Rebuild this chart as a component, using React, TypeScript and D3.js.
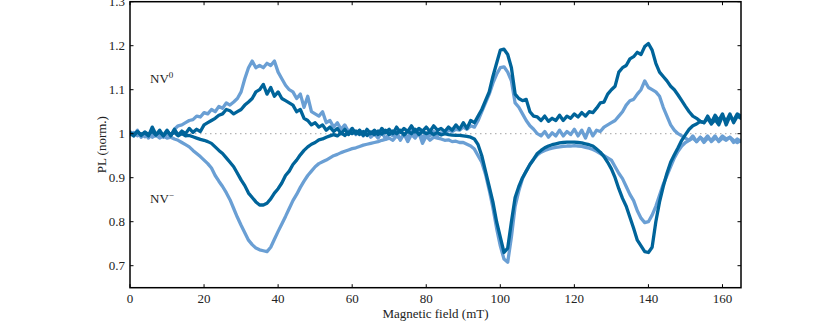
import React from 'react';
import * as d3 from 'd3';

// Magnetic field grid (mT)
const fieldMT: number[] = d3.range(0, 166);

// NV0 PL, dark series
const nv0Dark = [
  1.000, 0.995, 1.005, 0.998, 1.002, 0.995, 1.015, 0.998, 1.004, 0.996,
  1.008, 0.995, 1.010, 0.997, 1.006, 1.000, 1.012, 1.003, 1.010, 1.005,
  1.020, 1.025, 1.030, 1.035, 1.042, 1.045, 1.055, 1.052, 1.045, 1.050,
  1.055, 1.065, 1.072, 1.080, 1.095, 1.100, 1.112, 1.090, 1.105, 1.085,
  1.095, 1.080, 1.075, 1.070, 1.065, 1.050, 1.055, 1.035, 1.030, 1.020,
  1.025, 1.015, 1.020, 1.008, 1.015, 1.005, 1.012, 1.000, 1.010, 0.998,
  1.012, 1.000, 1.008, 0.996, 1.010, 1.000, 1.008, 0.998, 1.012, 1.002,
  1.010, 1.000, 1.015, 1.003, 1.012, 1.005, 1.018, 1.004, 1.012, 1.006,
  1.015, 1.005, 1.018, 1.008, 1.012, 1.005, 1.015, 1.008, 1.020, 1.010,
  1.025, 1.012, 1.030, 1.025, 1.040, 1.055, 1.075, 1.095, 1.130, 1.160,
  1.190, 1.192, 1.180, 1.150, 1.090, 1.080, 1.075, 1.078, 1.050, 1.040,
  1.038, 1.030, 1.040, 1.028, 1.035, 1.030, 1.042, 1.030, 1.040, 1.035,
  1.045, 1.038, 1.048, 1.040, 1.050, 1.048, 1.058, 1.070, 1.072, 1.090,
  1.100, 1.108, 1.140, 1.150, 1.155, 1.170, 1.175, 1.185, 1.180, 1.198,
  1.205, 1.190, 1.160, 1.140, 1.130, 1.120, 1.108, 1.100, 1.088, 1.075,
  1.062, 1.050, 1.040, 1.035, 1.028, 1.025, 1.040, 1.025, 1.042, 1.030,
  1.045, 1.020, 1.040, 1.030, 1.045, 1.040,
];

// NV0 PL, light series
const nv0Light = [
  1.005, 0.995, 1.008, 0.992, 1.000, 0.990, 1.002, 0.995, 0.998, 0.992,
  1.000, 0.995, 1.010, 1.018, 1.020, 1.025, 1.030, 1.032, 1.040, 1.038,
  1.048, 1.045, 1.055, 1.050, 1.062, 1.058, 1.070, 1.065, 1.072, 1.080,
  1.095, 1.125, 1.150, 1.165, 1.150, 1.155, 1.150, 1.160, 1.155, 1.165,
  1.140, 1.125, 1.110, 1.100, 1.095, 1.080, 1.090, 1.060, 1.085, 1.050,
  1.045, 1.040, 1.050, 1.025, 1.030, 1.015, 1.025, 1.010, 1.020, 1.005,
  1.012, 0.998, 1.008, 0.995, 1.005, 0.992, 1.000, 0.990, 1.004, 0.988,
  1.000, 0.995, 1.005, 0.985, 1.000, 0.990, 1.010, 0.992, 1.005, 0.990,
  1.002, 0.995, 1.005, 0.995, 1.002, 1.000, 1.008, 1.005, 1.010, 1.008,
  1.015, 1.010, 1.018, 1.015, 1.030, 1.050, 1.070, 1.090, 1.115, 1.135,
  1.150, 1.152, 1.140, 1.120, 1.070, 1.060, 1.045, 1.030, 1.018, 1.010,
  1.000, 0.995, 1.005, 0.992, 1.002, 0.995, 1.008, 0.995, 1.005, 0.998,
  1.010, 0.995, 1.008, 0.990, 1.012, 0.995, 1.008, 1.005, 1.015, 1.020,
  1.025, 1.030, 1.040, 1.050, 1.065, 1.075, 1.078, 1.090, 1.100, 1.120,
  1.105, 1.100, 1.095, 1.085, 1.060, 1.040, 1.020, 1.008, 1.000, 0.995,
  0.990, 0.985, 0.995, 0.982, 0.992, 0.985, 0.995, 0.982, 0.990, 0.985,
  0.995, 0.988, 0.992, 0.985, 0.980, 0.985,
];

// NV- PL, dark series
const nvmDark = [
  1.002, 0.998, 1.005, 0.996, 1.004, 0.998, 1.006, 0.997, 1.008, 0.995,
  1.005, 0.998, 1.003, 0.995, 1.000, 0.995, 0.996, 0.993, 0.990, 0.987,
  0.985, 0.982, 0.978, 0.970, 0.962, 0.955, 0.945, 0.935, 0.925, 0.910,
  0.895, 0.882, 0.865, 0.855, 0.845, 0.838, 0.838, 0.842, 0.852, 0.865,
  0.875, 0.888, 0.905, 0.915, 0.930, 0.940, 0.952, 0.962, 0.970, 0.976,
  0.980, 0.986, 0.988, 0.992, 0.995, 0.998, 0.995, 1.002, 0.996, 1.004,
  1.000, 1.006, 0.998, 1.005, 0.996, 1.004, 0.998, 1.006, 0.999, 1.008,
  0.998, 1.006, 1.000, 1.008, 0.997, 1.006, 1.000, 1.010, 0.998, 1.005,
  1.000, 1.004, 0.998, 1.003, 0.997, 1.000, 0.998, 0.997, 0.996, 0.996,
  0.995, 0.994, 0.992, 0.988, 0.975, 0.950, 0.915, 0.880, 0.845, 0.800,
  0.765, 0.730, 0.740, 0.800, 0.855, 0.880, 0.900, 0.915, 0.930, 0.942,
  0.955, 0.962, 0.968, 0.972, 0.975, 0.977, 0.979, 0.980, 0.981, 0.981,
  0.981, 0.980, 0.979, 0.977, 0.975, 0.972, 0.965, 0.958, 0.948, 0.935,
  0.920, 0.900, 0.875, 0.853, 0.835, 0.810, 0.785, 0.758, 0.745, 0.732,
  0.730, 0.742, 0.800, 0.845, 0.880, 0.910, 0.935, 0.952, 0.968, 0.985,
  0.998, 1.010, 1.018, 1.022, 1.028, 1.025, 1.035, 1.022, 1.032, 1.020,
  1.040, 1.028, 1.045, 1.025, 1.040, 1.035,
];

// NV- PL, light series
const nvmLight = [
  0.998, 1.003, 0.995, 1.000, 0.993, 0.998, 0.992, 0.997, 0.990, 0.995,
  0.990, 0.992, 0.988, 0.985, 0.980, 0.975, 0.970, 0.962, 0.955, 0.948,
  0.940, 0.932, 0.922, 0.905, 0.892, 0.880, 0.866, 0.850, 0.830, 0.810,
  0.792, 0.775, 0.758, 0.748, 0.740, 0.736, 0.734, 0.732, 0.742, 0.760,
  0.778, 0.795, 0.812, 0.830, 0.848, 0.862, 0.878, 0.892, 0.905, 0.915,
  0.925, 0.932, 0.936, 0.940, 0.945, 0.950, 0.953, 0.957, 0.960, 0.963,
  0.966, 0.968, 0.971, 0.974, 0.976, 0.978, 0.980, 0.982, 0.985, 0.987,
  0.990, 0.985, 0.995, 0.988, 1.000, 0.982, 0.998, 0.990, 1.002, 0.978,
  0.995, 0.985, 0.992, 0.990, 0.988, 0.985, 0.986, 0.982, 0.983, 0.980,
  0.980, 0.976, 0.972, 0.965, 0.950, 0.935, 0.908, 0.872, 0.832, 0.785,
  0.745, 0.715, 0.708, 0.765, 0.835, 0.870, 0.898, 0.915, 0.930, 0.942,
  0.952, 0.958, 0.962, 0.965, 0.967, 0.969, 0.970, 0.971, 0.972, 0.972,
  0.973, 0.972, 0.971, 0.969, 0.967, 0.964, 0.960, 0.955, 0.950, 0.945,
  0.940, 0.925, 0.910, 0.898, 0.880, 0.862, 0.848, 0.825, 0.808, 0.798,
  0.800, 0.815, 0.835, 0.860, 0.885, 0.905, 0.925, 0.945, 0.960, 0.972,
  0.980, 0.985, 0.990, 0.982, 0.992, 0.980, 0.990, 0.985, 0.995, 0.982,
  0.990, 0.985, 0.992, 0.980, 0.988, 0.982,
];

const xTicks = [0, 20, 40, 60, 80, 100, 120, 140, 160];
const yTicks = [0.7, 0.8, 0.9, 1.0, 1.1, 1.2, 1.3];
const yTickLabels = ['0.7', '0.8', '0.9', '1', '1.1', '1.2', '1.3'];

const DARK = '#00649a';
const LIGHT = '#6a9fd4';
const FONT = '"Liberation Serif", "Times New Roman", serif';

export default function App() {
  const left = 130, right = 741, top = 1.7, bottom = 287.7;
  const x = d3.scaleLinear().domain([0, 165]).range([left, right]);
  const y = d3.scaleLinear().domain([0.65, 1.3]).range([bottom, top]);
  const line = d3
    .line<number>()
    .x((_, i) => x(fieldMT[i]))
    .y((d) => y(d));

  const series = [
    { data: nvmLight, color: LIGHT },
    { data: nv0Light, color: LIGHT },
    { data: nvmDark, color: DARK },
    { data: nv0Dark, color: DARK },
  ];
  const tl = 3.5;

  return (
    <svg
      width={830}
      height={326}
      style={{ position: 'absolute', left: 0, top: 0, background: '#fff' }}
      fontFamily={FONT}
    >
      <defs>
        <clipPath id="plotClip">
          <rect x={left} y={top} width={right - left} height={bottom - top} />
        </clipPath>
      </defs>
      <line
        x1={left}
        x2={right}
        y1={y(1)}
        y2={y(1)}
        stroke="#b5b5b5"
        strokeWidth={1.2}
        strokeDasharray="1.5 3.5"
      />
      <g clipPath="url(#plotClip)">
        {series.map((s, i) => (
          <path
            key={i}
            d={line(s.data) || ''}
            fill="none"
            stroke={s.color}
            strokeWidth={3.3}
            strokeLinejoin="round"
            strokeLinecap="round"
          />
        ))}
      </g>
      <rect
        x={left}
        y={top}
        width={right - left}
        height={bottom - top}
        fill="none"
        stroke="#000"
        strokeWidth={1.5}
      />
      {xTicks.map((t) => (
        <g key={'x' + t}>
          <line x1={x(t)} x2={x(t)} y1={bottom} y2={bottom - tl} stroke="#000" strokeWidth={1} />
          <line x1={x(t)} x2={x(t)} y1={top} y2={top + tl} stroke="#000" strokeWidth={1} />
          <text x={x(t)} y={bottom + 15.5} textAnchor="middle" fontSize={13} fill="#222">
            {t}
          </text>
        </g>
      ))}
      {yTicks.map((t, i) => (
        <g key={'y' + t}>
          <line x1={left} x2={left + tl} y1={y(t)} y2={y(t)} stroke="#000" strokeWidth={1} />
          <line x1={right} x2={right - tl} y1={y(t)} y2={y(t)} stroke="#000" strokeWidth={1} />
          <text x={left - 5} y={y(t)} dy="0.33em" textAnchor="end" fontSize={13} fill="#222">
            {yTickLabels[i]}
          </text>
        </g>
      ))}
      <text x={(left + right) / 2} y={318} textAnchor="middle" fontSize={13} fill="#222">
        Magnetic field (mT)
      </text>
      <text
        transform={`translate(106,${(top + bottom) / 2}) rotate(-90)`}
        textAnchor="middle"
        fontSize={13}
        fill="#222"
      >
        PL (norm.)
      </text>
      <text x={150} y={83.3} fontSize={13} fill="#222">
        NV<tspan dy={-5} fontSize={9}>0</tspan>
      </text>
      <text x={150} y={203.3} fontSize={13} fill="#222">
        NV<tspan dy={-5} fontSize={9}>−</tspan>
      </text>
    </svg>
  );
}
